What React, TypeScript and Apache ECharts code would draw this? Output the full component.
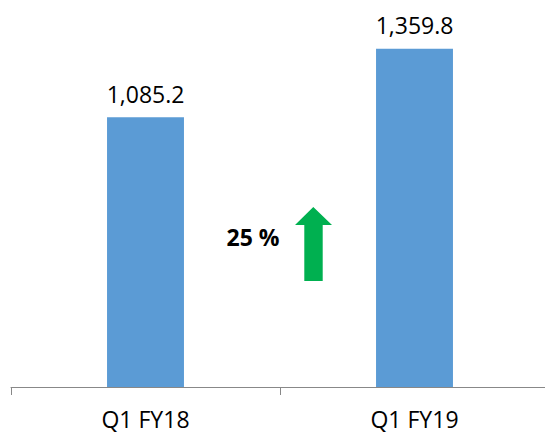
import React, { useEffect, useRef } from "react";
import * as echarts from "echarts";

const categories = ["Q1 FY18", "Q1 FY19"];
const values = [1085.2, 1359.8];
const growthLabel = "25 %";

export default function App() {
  const ref = useRef<HTMLDivElement>(null);
  useEffect(() => {
    const chart = echarts.init(ref.current!, null, { renderer: "svg" });
    chart.setOption({
      animation: false,
      grid: { left: 11, top: 14, width: 538, bottom: 46, outerBoundsMode: "none", containLabel: false },
      xAxis: {
        type: "category",
        data: categories,
        axisLine: { show: true, lineStyle: { color: "#888888", width: 1 } },
        axisTick: { show: true, length: 8, alignWithLabel: false, lineStyle: { color: "#888888" } },
        axisLabel: {
          color: "#000",
          fontFamily: "Open Sans",
          fontSize: 23,
          margin: 20,
        },
      },
      yAxis: {
        type: "value",
        min: 0,
        max: 1500,
        show: false,
        splitLine: { show: false },
      },
      series: [
        {
          type: "bar",
          data: values,
          barWidth: "28.6%",
          itemStyle: { color: "#5B9BD5" },
          label: {
            show: true,
            position: "top",
            distance: 12,
            color: "#000",
            fontFamily: "Open Sans",
            fontSize: 23,
            formatter: (p: any) =>
              p.value.toLocaleString("en-US", { minimumFractionDigits: 1, maximumFractionDigits: 1 }),
          },
        },
      ],
      graphic: [
        {
          type: "text",
          x: 253,
          y: 237,
          style: {
            text: growthLabel,
            fill: "#000",
            font: "bold 23px 'Open Sans'",
            align: "center",
            verticalAlign: "middle",
          },
        },
        {
          type: "polygon",
          shape: {
            points: [
              [313.3, 207],
              [332, 225],
              [322.7, 225],
              [322.7, 281],
              [304.3, 281],
              [304.3, 225],
              [295, 225],
            ],
          },
          style: { fill: "#00B050" },
        },
      ],
    });
    return () => chart.dispose();
  }, []);
  return <div ref={ref} style={{ width: 545, height: 433, position: "absolute", left: 0, top: 0 }} />;
}
